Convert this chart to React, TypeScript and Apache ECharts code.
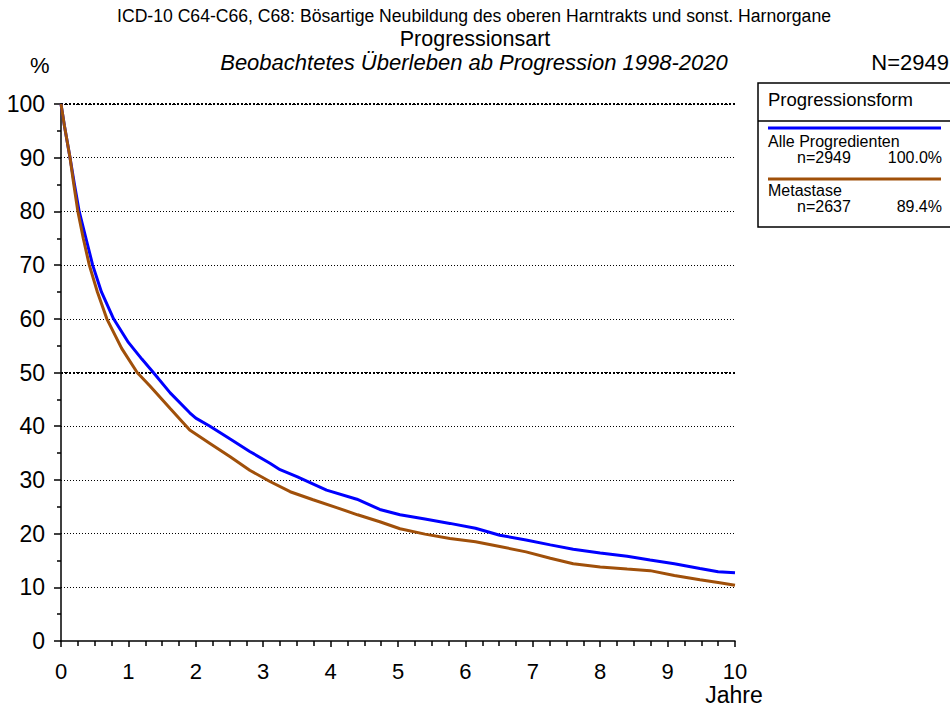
import React, { useEffect, useRef } from "react";
import * as echarts from "echarts";

const FONT = "'Liberation Sans', Arial, Helvetica, sans-serif";

const titleLines = [
  "ICD-10 C64-C66, C68: Bösartige Neubildung des oberen Harntrakts und sonst. Harnorgane",
  "Progressionsart",
  "Beobachtetes Überleben ab Progression 1998-2020",
];
const totalLabel = "N=2949";
const yUnit = "%";
const xName = "Jahre";
const legendTitle = "Progressionsform";

const seriesNames = ["Alle Progredienten", "Metastase"];
const seriesCounts = ["n=2949", "n=2637"];
const seriesShares = ["100.0%", "89.4%"];
const seriesColors = ["#0000ff", "#a0500a"];

const allYears = [0, 0.05, 0.134, 0.2, 0.27, 0.37, 0.47, 0.6, 0.78, 1.0, 1.2, 1.37, 1.62, 1.91, 2.0, 2.21, 2.51, 2.8, 3.1, 3.25, 3.5, 3.94, 4.39, 4.73, 5.03, 5.4, 5.77, 6.15, 6.51, 6.9, 7.26, 7.6, 8.0, 8.4, 8.74, 9.1, 9.48, 9.75, 10.0];
const allValues = [100, 96, 90, 85, 80, 75, 70, 65, 60, 55.6, 52.5, 50, 46.2, 42.5, 41.5, 40, 37.6, 35.3, 33.1, 31.9, 30.6, 28.1, 26.4, 24.5, 23.5, 22.7, 21.9, 21.0, 19.7, 18.8, 17.9, 17.1, 16.4, 15.8, 15.1, 14.4, 13.5, 12.9, 12.7];

const metYears = [0, 0.05, 0.134, 0.19, 0.25, 0.33, 0.42, 0.54, 0.68, 0.9, 1.13, 1.32, 1.62, 1.91, 2.21, 2.51, 2.8, 3.1, 3.4, 3.74, 4.1, 4.4, 4.73, 5.03, 5.4, 5.77, 6.15, 6.51, 6.9, 7.26, 7.6, 8.0, 8.4, 8.74, 9.1, 9.48, 9.75, 10.0];
const metValues = [100, 96, 90, 85, 80, 75, 70, 65, 60, 54.5, 50, 47.5, 43.3, 39.3, 36.8, 34.3, 31.8, 29.7, 27.8, 26.3, 24.8, 23.5, 22.2, 20.9, 19.9, 19.1, 18.5, 17.6, 16.6, 15.4, 14.4, 13.8, 13.4, 13.1, 12.2, 11.4, 10.9, 10.4];

const yGridCount = 11; // ticks 0..100

export default function App() {
  const ref = useRef<HTMLDivElement>(null);
  useEffect(() => {
    document.body.style.margin = "0";
    if (!ref.current) return;
    const chart = echarts.init(ref.current, null, { renderer: "svg" });
    const splitColors = Array.from({ length: yGridCount }, (_, i) => (i === 0 ? "rgba(0,0,0,0)" : "#000"));
    const option: any = {
      animation: false,
      backgroundColor: "#fff",
      textStyle: { fontFamily: FONT },
      grid: { left: 61, right: 215, top: 104, bottom: 85, containLabel: false },
      xAxis: {
        type: "value",
        min: 0,
        max: 10,
        interval: 1,
        offset: 7,
        axisLine: { show: true, lineStyle: { color: "#000", width: 1.5 } },
        axisTick: { show: true, length: 6, lineStyle: { color: "#000", width: 1.5 } },
        minorTick: { show: true, splitNumber: 4, length: 5, lineStyle: { color: "#000", width: 1.5 } },
        axisLabel: { color: "#000", fontSize: 22, fontFamily: FONT, margin: 12 },
        splitLine: { show: false },
      },
      yAxis: {
        type: "value",
        min: 0,
        max: 100,
        interval: 10,
        offset: 4,
        axisLine: { show: true, lineStyle: { color: "#000", width: 1.5 } },
        axisTick: { show: true, length: 7, lineStyle: { color: "#000", width: 1.5 } },
        minorTick: { show: true, splitNumber: 2, length: 4, lineStyle: { color: "#000", width: 1.5 } },
        axisLabel: { color: "#000", fontSize: 23, fontFamily: FONT, margin: 12 },
        splitLine: { show: true, lineStyle: { color: splitColors, type: [1, 2], width: 1 } },
      },
      series: [
        {
          name: seriesNames[0],
          type: "line",
          showSymbol: false,
          symbol: "none",
          data: allYears.map((t, i) => [t, allValues[i]]),
          lineStyle: { color: seriesColors[0], width: 3 },
          itemStyle: { color: seriesColors[0] },
          z: 3,
          markLine: {
            silent: true,
            symbol: "none",
            label: { show: false },
            lineStyle: { color: "#000", type: [2, 2], width: 2 },
            data: [{ yAxis: 50 }, { yAxis: 100 }],
            z: 1,
          },
        },
        {
          name: seriesNames[1],
          type: "line",
          showSymbol: false,
          symbol: "none",
          data: metYears.map((t, i) => [t, metValues[i]]),
          lineStyle: { color: seriesColors[1], width: 3 },
          itemStyle: { color: seriesColors[1] },
          z: 4,
        },
      ],
      graphic: [
        { type: "text", x: 474, y: 16, style: { text: titleLines[0], font: `17.6px ${FONT}`, fill: "#000", align: "center", verticalAlign: "middle" } },
        { type: "text", x: 475, y: 39, style: { text: titleLines[1], font: `21.5px ${FONT}`, fill: "#000", align: "center", verticalAlign: "middle" } },
        { type: "text", x: 474, y: 62, style: { text: titleLines[2], font: `italic 22px ${FONT}`, fill: "#000", align: "center", verticalAlign: "middle" } },
        { type: "text", x: 30, y: 65, style: { text: yUnit, font: `22px ${FONT}`, fill: "#000", align: "left", verticalAlign: "middle" } },
        { type: "text", x: 949, y: 62, style: { text: totalLabel, font: `22px ${FONT}`, fill: "#000", align: "right", verticalAlign: "middle" } },
        { type: "text", x: 734, y: 695, style: { text: xName, font: `23px ${FONT}`, fill: "#000", align: "center", verticalAlign: "middle" } },
        // legend box
        { type: "rect", shape: { x: 758, y: 83, width: 200, height: 144 }, style: { fill: "#fff", stroke: "#000", lineWidth: 1.5 } },
        { type: "line", shape: { x1: 758, y1: 121, x2: 950, y2: 121 }, style: { stroke: "#000", lineWidth: 1.5 } },
        { type: "text", x: 768, y: 99, style: { text: legendTitle, font: `18.5px ${FONT}`, fill: "#000", align: "left", verticalAlign: "middle" } },
        { type: "line", shape: { x1: 768, y1: 128, x2: 941, y2: 128 }, style: { stroke: seriesColors[0], lineWidth: 3 } },
        { type: "text", x: 768, y: 141, style: { text: seriesNames[0], font: `16px ${FONT}`, fill: "#000", align: "left", verticalAlign: "middle" } },
        { type: "text", x: 797, y: 157, style: { text: seriesCounts[0], font: `16px ${FONT}`, fill: "#000", align: "left", verticalAlign: "middle" } },
        { type: "text", x: 942, y: 157, style: { text: seriesShares[0], font: `16px ${FONT}`, fill: "#000", align: "right", verticalAlign: "middle" } },
        { type: "line", shape: { x1: 768, y1: 179, x2: 941, y2: 179 }, style: { stroke: seriesColors[1], lineWidth: 3 } },
        { type: "text", x: 768, y: 190, style: { text: seriesNames[1], font: `16px ${FONT}`, fill: "#000", align: "left", verticalAlign: "middle" } },
        { type: "text", x: 797, y: 206, style: { text: seriesCounts[1], font: `16px ${FONT}`, fill: "#000", align: "left", verticalAlign: "middle" } },
        { type: "text", x: 942, y: 206, style: { text: seriesShares[1], font: `16px ${FONT}`, fill: "#000", align: "right", verticalAlign: "middle" } },
      ],
    };
    chart.setOption(option);
    return () => chart.dispose();
  }, []);
  return <div ref={ref} style={{ width: 950, height: 726 }} />;
}
